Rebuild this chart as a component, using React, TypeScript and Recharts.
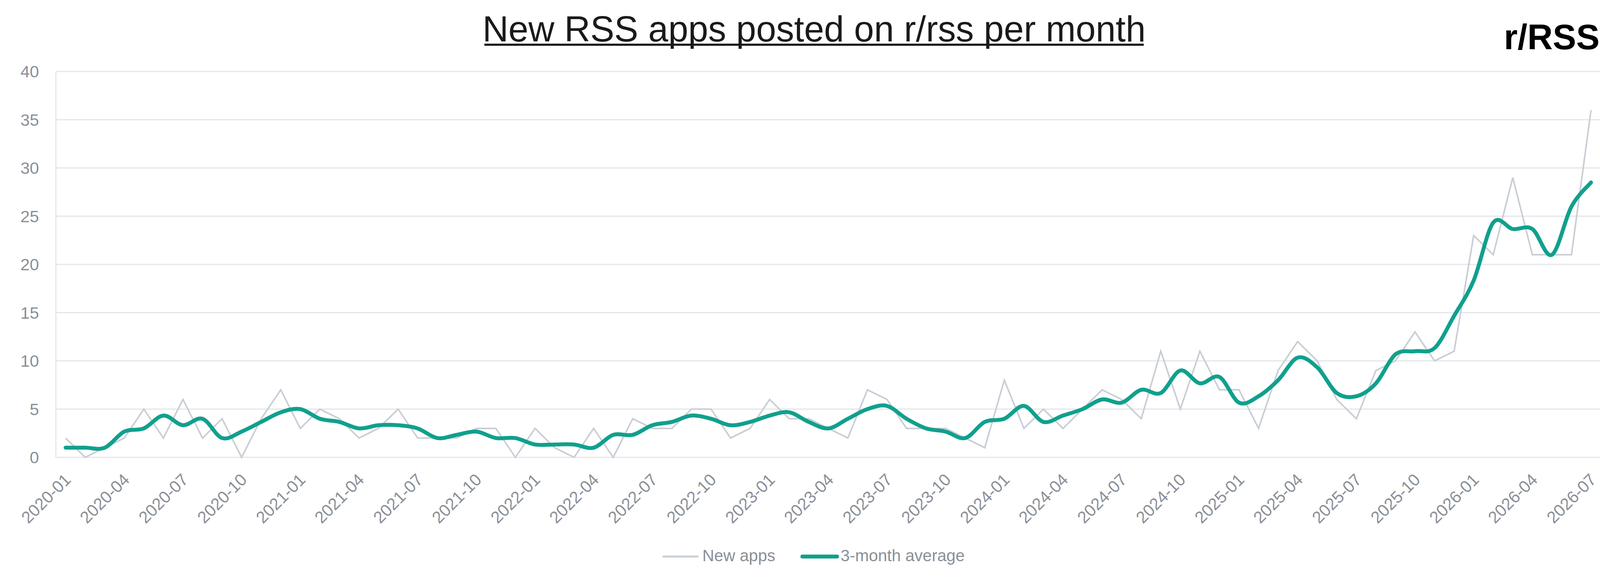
import React from "react";
import { LineChart, Line, XAxis, YAxis, CartesianGrid, Legend } from "recharts";

const months = [
  "2020-01","2020-02","2020-03","2020-04","2020-05","2020-06","2020-07","2020-08","2020-09","2020-10","2020-11","2020-12",
  "2021-01","2021-02","2021-03","2021-04","2021-05","2021-06","2021-07","2021-08","2021-09","2021-10","2021-11","2021-12",
  "2022-01","2022-02","2022-03","2022-04","2022-05","2022-06","2022-07","2022-08","2022-09","2022-10","2022-11","2022-12",
  "2023-01","2023-02","2023-03","2023-04","2023-05","2023-06","2023-07","2023-08","2023-09","2023-10","2023-11","2023-12",
  "2024-01","2024-02","2024-03","2024-04","2024-05","2024-06","2024-07","2024-08","2024-09","2024-10","2024-11","2024-12",
  "2025-01","2025-02","2025-03","2025-04","2025-05","2025-06","2025-07","2025-08","2025-09","2025-10","2025-11","2025-12",
  "2026-01","2026-02","2026-03","2026-04","2026-05","2026-06","2026-07",
];

const newApps = [
  2, 0, 1, 2, 5, 2, 6, 2, 4, 0, 4, 7,
  3, 5, 4, 2, 3, 5, 2, 2, 2, 3, 3, 0,
  3, 1, 0, 3, 0, 4, 3, 3, 5, 5, 2, 3,
  6, 4, 4, 3, 2, 7, 6, 3, 3, 3, 2, 1,
  8, 3, 5, 3, 5, 7, 6, 4, 11, 5, 11, 7,
  7, 3, 9, 12, 10, 6, 4, 9, 10, 13, 10, 11,
  23, 21, 29, 21, 21, 21, 36,
];

const avg3 = [
  1, 1, 1, 2.67, 3, 4.33, 3.33, 4, 2, 2.67, 3.67, 4.67,
  5, 4, 3.67, 3, 3.33, 3.33, 3, 2, 2.33, 2.67, 2, 2,
  1.33, 1.33, 1.33, 1, 2.33, 2.33, 3.33, 3.67, 4.33, 4, 3.33, 3.67,
  4.33, 4.67, 3.67, 3, 4, 5, 5.33, 4, 3, 2.67, 2, 3.67,
  4, 5.33, 3.67, 4.33, 5, 6, 5.67, 7, 6.67, 9, 7.67, 8.33,
  5.67, 6.33, 8, 10.33, 9.33, 6.67, 6.33, 7.67, 10.67, 11, 11.33, 14.67,
  18.33, 24.33, 23.67, 23.67, 21, 26, 28.5,
];

const yTicks = [0, 5, 10, 15, 20, 25, 30, 35, 40];

const seriesNames = { apps: "New apps", avg: "3-month average" };

const data = months.map((m, i) => ({ month: m, apps: newApps[i], avg: avg3[i] }));

const FONT = "'Liberation Sans', Arial, Helvetica, sans-serif";
const TICK_COLOR = "#8a8f98";
const GRID_COLOR = "#e4e6ea";
const GRAY_LINE = "#c9ced5";
const TEAL = "#10a08d";

// Excel-like smoothed line (uniform Catmull-Rom as cubic Bezier)
const excelSmooth = (context: any) => {
  let pts: number[][] = [];
  return {
    areaStart() {},
    areaEnd() {},
    lineStart() {
      pts = [];
    },
    lineEnd() {
      const n = pts.length;
      if (n === 0) return;
      context.moveTo(pts[0][0], pts[0][1]);
      for (let i = 0; i < n - 1; i++) {
        const p0 = pts[i > 0 ? i - 1 : i];
        const p1 = pts[i];
        const p2 = pts[i + 1];
        const p3 = pts[i + 2 < n ? i + 2 : i + 1];
        context.bezierCurveTo(
          p1[0] + (p2[0] - p0[0]) / 6,
          p1[1] + (p2[1] - p0[1]) / 6,
          p2[0] - (p3[0] - p1[0]) / 6,
          p2[1] - (p3[1] - p1[1]) / 6,
          p2[0],
          p2[1]
        );
      }
    },
    point(x: number, y: number) {
      pts.push([+x, +y]);
    },
  };
};

const XTick = (props: any) => {
  const { x, y, payload } = props;
  const ax = x + 16;
  const ay = y + 60;
  return (
    <text
      x={ax}
      y={ay}
      transform={`rotate(-45, ${ax}, ${ay})`}
      textAnchor="end"
      fill={TICK_COLOR}
      fontSize={43}
      fontFamily={FONT}
    >
      {payload.value}
    </text>
  );
};

const LegendContent = (props: any) => {
  const payload = props.payload || [];
  const apps = payload.find((p: any) => p.dataKey === "apps");
  const avg = payload.find((p: any) => p.dataKey === "avg");
  return (
    <svg width={4170} height={100} style={{ display: "block" }}>
      <line x1={1698} y1={45} x2={1786} y2={45} stroke={apps ? apps.color : GRAY_LINE} strokeWidth={5} strokeLinecap="round" />
      <text x={1798} y={57} fontSize={42} fill={TICK_COLOR} fontFamily={FONT}>
        {apps ? apps.value : seriesNames.apps}
      </text>
      <line x1={2054} y1={45} x2={2143} y2={45} stroke={avg ? avg.color : TEAL} strokeWidth={10} strokeLinecap="round" />
      <text x={2152} y={57} fontSize={42} fill={TICK_COLOR} fontFamily={FONT}>
        {avg ? avg.value : seriesNames.avg}
      </text>
    </svg>
  );
};

export default function App() {
  return (
    <div style={{ position: "absolute", left: 0, top: 0, width: 4170, height: 1503, background: "#ffffff" }}>
      <LineChart
        width={4170}
        height={1503}
        data={data}
        margin={{ top: 183, right: 72, bottom: 0, left: 0 }}
      >
        <CartesianGrid vertical={false} stroke={GRID_COLOR} strokeWidth={3} />
        <XAxis
          dataKey="month"
          interval={2}
          padding={{ left: 25, right: 25 }}
          height={332}
          tickLine={false}
          axisLine={false}
          tickSize={0}
          tickMargin={0}
          tick={<XTick />}
        />
        <YAxis
          type="number"
          domain={[0, 40]}
          ticks={yTicks}
          width={143}
          tickLine={false}
          tickSize={0}
          tickMargin={43}
          axisLine={{ stroke: GRID_COLOR, strokeWidth: 3 }}
          tick={{ fill: TICK_COLOR, fontSize: 43, fontFamily: FONT }}
        />
        <Legend
          verticalAlign="middle"
          align="center"
          layout="horizontal"
          wrapperStyle={{ top: 1380, left: 0, width: 4170, height: 100 }}
          content={<LegendContent />}
        />
        <Line
          dataKey="apps"
          name={seriesNames.apps}
          type="linear"
          stroke={GRAY_LINE}
          strokeWidth={4}
          dot={false}
          activeDot={false}
          isAnimationActive={false}
        />
        <Line
          dataKey="avg"
          name={seriesNames.avg}
          type={excelSmooth as any}
          stroke={TEAL}
          strokeWidth={10}
          strokeLinecap="round"
          dot={false}
          activeDot={false}
          isAnimationActive={false}
        />
      </LineChart>
      <svg
        width={4170}
        height={180}
        style={{ position: "absolute", left: 0, top: 0, pointerEvents: "none" }}
      >
        <text x={2084} y={106} textAnchor="middle" fontSize={92} fill="#1a1a1a" fontFamily={FONT}>
          New RSS apps posted on r/rss per month
        </text>
        <line x1={1240} y1={114.5} x2={2928} y2={114.5} stroke="#1a1a1a" strokeWidth={5.5} />
        <text x={4095} y={126} textAnchor="end" fontSize={90} fontWeight="bold" fill="#000000" fontFamily={FONT}>
          r/RSS
        </text>
      </svg>
    </div>
  );
}
